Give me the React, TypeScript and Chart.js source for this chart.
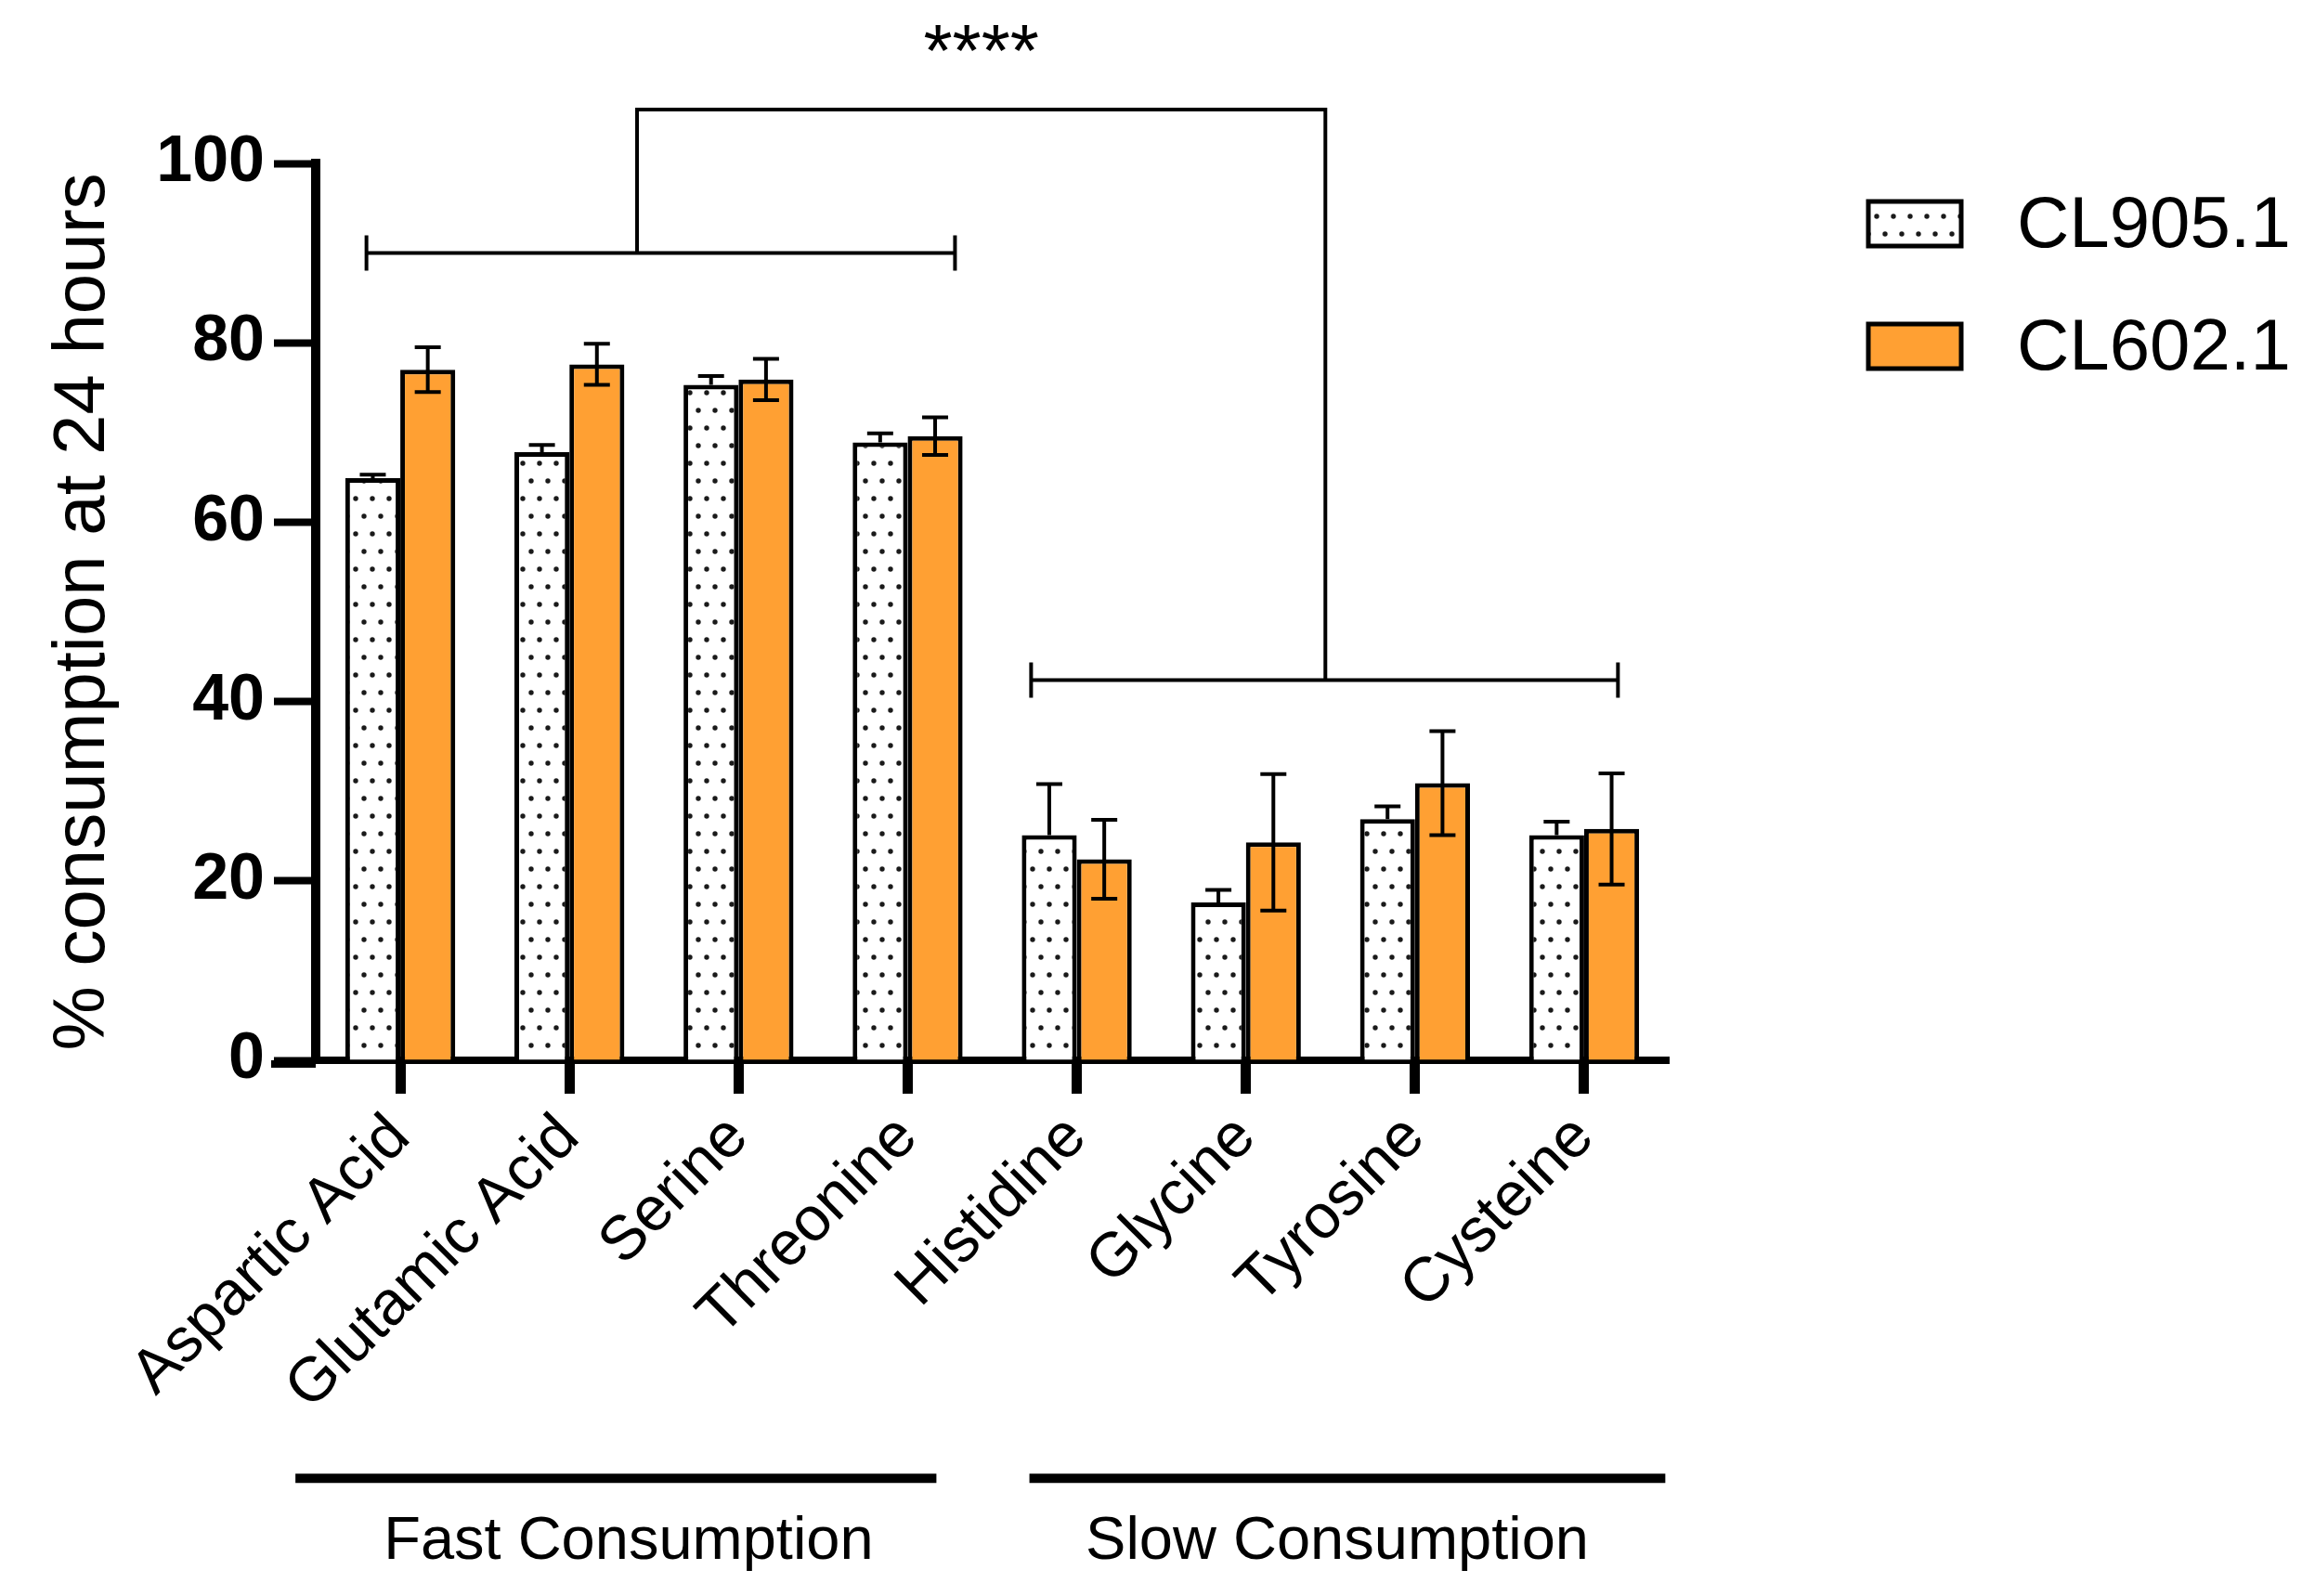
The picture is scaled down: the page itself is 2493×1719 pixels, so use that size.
import React, { useEffect, useRef } from 'react';
import { Chart, registerables } from 'chart.js';

Chart.register(...registerables);

const categories = ['Aspartic Acid', 'Glutamic Acid', 'Serine', 'Threonine', 'Histidine', 'Glycine', 'Tyrosine', 'Cysteine'];
const seriesLabels = ['CL905.1', 'CL602.1'];
const cl905Values = [64.9, 67.8, 75.3, 68.9, 25.1, 17.6, 26.9, 25.1];
const cl905Errors = [0.4, 0.8, 1.0, 1.0, 5.7, 1.4, 1.4, 1.5];
const cl602Values = [77.0, 77.6, 75.9, 69.6, 22.4, 24.3, 30.9, 25.8];
const cl602Errors = [2.5, 2.3, 2.3, 2.1, 4.4, 7.6, 5.8, 6.2];
const yTicks = [0, 20, 40, 60, 80, 100];
const groupLabels = ['Fast Consumption', 'Slow Consumption'];
const significanceLabel = '****';
const yTitle = '% consumption at 24 hours';

const W = 2493;
const H = 1719;
const FONT = "'Liberation Sans', Arial, sans-serif";
const ORANGE = '#FFA033';

// annotation geometry expressed in axis units (category index / y value)
const bracketFast = { from: -0.2, to: 3.28, y: 90.0, stem: 1.40 };
const bracketSlow = { from: 3.73, to: 7.2, y: 42.4, stem: 5.47 };
const bracketTopY = 106.0;
const starsY = 109.7;
const groupLines = [
  { from: -0.62, to: 3.17, text: 1.35 },
  { from: 3.72, to: 7.48, text: 5.54 },
];
const groupLineY = -46.6;
const groupTextY = -55.6;

function makeDotPattern(): CanvasPattern | string {
  const c = document.createElement('canvas');
  c.width = 36;
  c.height = 38;
  const g = c.getContext('2d');
  if (!g) return '#fff';
  g.fillStyle = '#ffffff';
  g.fillRect(0, 0, 36, 38);
  g.fillStyle = '#1a1a1a';
  const dots = [
    [5, 5],
    [23, 5],
    [14, 24],
    [32, 24],
  ];
  for (const [x, y] of dots) {
    g.beginPath();
    g.arc(x, y, 2.7, 0, Math.PI * 2);
    g.fill();
  }
  const p = g.createPattern(c, 'repeat');
  return p || '#fff';
}

export default function App() {
  const ref = useRef<HTMLCanvasElement | null>(null);

  useEffect(() => {
    document.body.style.margin = '0';
    const canvas = ref.current;
    if (!canvas) return;
    const pattern = makeDotPattern();
    const errors = [cl905Errors, cl602Errors];

    const annotationPlugin = {
      id: 'annotations',
      afterDatasetsDraw(chart: any) {
        const ctx = chart.ctx;
        const ys = chart.scales.y;
        ctx.save();
        ctx.strokeStyle = '#000';
        ctx.lineWidth = 4;
        chart.data.datasets.forEach((ds: any, di: number) => {
          const meta = chart.getDatasetMeta(di);
          meta.data.forEach((el: any, i: number) => {
            const v = ds.data[i];
            const e = errors[di][i];
            const top = ys.getPixelForValue(v + e);
            const bottom = di === 0 ? ys.getPixelForValue(v) : ys.getPixelForValue(v - e);
            const cap = 14;
            ctx.beginPath();
            ctx.moveTo(el.x, top);
            ctx.lineTo(el.x, bottom);
            ctx.moveTo(el.x - cap, top);
            ctx.lineTo(el.x + cap, top);
            if (di !== 0) {
              ctx.moveTo(el.x - cap, bottom);
              ctx.lineTo(el.x + cap, bottom);
            }
            ctx.stroke();
          });
        });
        ctx.restore();
      },
      afterDraw(chart: any) {
        const ctx = chart.ctx;
        const xs = chart.scales.x;
        const ys = chart.scales.y;
        const area = chart.chartArea;
        ctx.save();
        // x-axis extension to the left of the y axis
        ctx.strokeStyle = '#000';
        ctx.lineWidth = 8;
        ctx.beginPath();
        const y0 = area.bottom + 4;
        ctx.moveTo(area.left - 48, y0);
        ctx.lineTo(area.left, y0);
        ctx.stroke();

        // brackets
        ctx.lineWidth = 4;
        const drawBracket = (b: any) => {
          const y = ys.getPixelForValue(b.y);
          const x1 = xs.getPixelForValue(b.from);
          const x2 = xs.getPixelForValue(b.to);
          ctx.beginPath();
          ctx.moveTo(x1, y);
          ctx.lineTo(x2, y);
          ctx.moveTo(x1, y - 19);
          ctx.lineTo(x1, y + 19);
          ctx.moveTo(x2, y - 19);
          ctx.lineTo(x2, y + 19);
          ctx.stroke();
        };
        drawBracket(bracketFast);
        drawBracket(bracketSlow);
        const yt = ys.getPixelForValue(bracketTopY);
        const sx1 = xs.getPixelForValue(bracketFast.stem);
        const sx2 = xs.getPixelForValue(bracketSlow.stem);
        ctx.beginPath();
        ctx.moveTo(sx1, ys.getPixelForValue(bracketFast.y));
        ctx.lineTo(sx1, yt);
        ctx.lineTo(sx2, yt);
        ctx.lineTo(sx2, ys.getPixelForValue(bracketSlow.y));
        ctx.stroke();

        ctx.fillStyle = '#000';
        ctx.font = `80px ${FONT}`;
        ctx.textAlign = 'center';
        ctx.textBaseline = 'alphabetic';
        ctx.fillText(significanceLabel, (sx1 + sx2) / 2, ys.getPixelForValue(starsY));

        // group lines
        ctx.lineWidth = 10;
        ctx.font = `65px ${FONT}`;
        groupLines.forEach((g, i) => {
          const gy = ys.getPixelForValue(groupLineY);
          ctx.beginPath();
          ctx.moveTo(xs.getPixelForValue(g.from), gy);
          ctx.lineTo(xs.getPixelForValue(g.to), gy);
          ctx.stroke();
          ctx.fillText(groupLabels[i], xs.getPixelForValue(g.text), ys.getPixelForValue(groupTextY));
        });

        // legend
        const fills = [pattern, ORANGE];
        ctx.font = `78px ${FONT}`;
        ctx.textAlign = 'left';
        ctx.textBaseline = 'middle';
        chart.data.datasets.forEach((ds: any, i: number) => {
          const bx = 2012;
          const by = 217 + i * 132;
          ctx.fillStyle = fills[i] as any;
          ctx.fillRect(bx, by, 100, 48);
          ctx.lineWidth = 5;
          ctx.strokeRect(bx, by, 100, 48);
          ctx.fillStyle = '#000';
          ctx.fillText(ds.label, 2172, by + 27);
        });
        ctx.restore();
      },
    };

    const chart = new Chart(canvas, {
      type: 'bar',
      data: {
        labels: categories,
        datasets: [
          {
            label: seriesLabels[0],
            data: cl905Values,
            backgroundColor: pattern as any,
            borderColor: '#000',
            borderWidth: 5,
            categoryPercentage: 0.65,
            barPercentage: 1,
          },
          {
            label: seriesLabels[1],
            data: cl602Values,
            backgroundColor: ORANGE,
            borderColor: '#000',
            borderWidth: 5,
            categoryPercentage: 0.65,
            barPercentage: 1,
          },
        ],
      },
      options: {
        animation: false,
        responsive: false,
        maintainAspectRatio: false,
        devicePixelRatio: 1,
        layout: { padding: { top: 176, right: 696, bottom: 0, left: 0 } },
        plugins: {
          legend: { display: false },
          tooltip: { enabled: false },
        },
        scales: {
          x: {
            ticks: {
              font: { family: FONT, size: 67 },
              color: '#000',
              maxRotation: 45,
              minRotation: 45,
              autoSkip: false,
              padding: 8,
            },
            grid: {
              offset: false,
              drawOnChartArea: false,
              drawTicks: true,
              tickLength: 36,
              tickWidth: 11,
              tickColor: '#000',
            },
            border: { display: true, width: 8, color: '#000' },
            afterFit: (s: any) => {
              s.height = H - 1142;
            },
          },
          y: {
            min: 0,
            max: 100,
            afterBuildTicks: (s: any) => {
              s.ticks = yTicks.map((v) => ({ value: v }));
            },
            ticks: {
              font: { family: FONT, size: 70, weight: 'bold' },
              color: '#000',
              padding: 10,
            },
            grid: {
              drawOnChartArea: false,
              drawTicks: true,
              tickLength: 45,
              tickWidth: 8,
              tickColor: '#000',
            },
            border: { display: true, width: 10, color: '#000' },
            title: {
              display: true,
              text: yTitle,
              font: { family: FONT, size: 78 },
              color: '#000',
              padding: { top: 44, bottom: 0 },
            },
            afterFit: (s: any) => {
              s.width = 340;
            },
          },
        },
      },
      plugins: [annotationPlugin],
    });

    return () => chart.destroy();
  }, []);

  return (
    <div style={{ width: W, height: H, background: '#fff' }}>
      <canvas ref={ref} width={W} height={H} style={{ width: W, height: H, display: 'block' }} />
    </div>
  );
}
